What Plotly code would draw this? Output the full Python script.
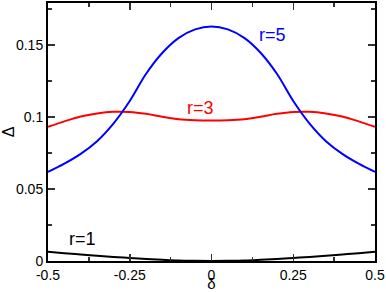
import plotly.graph_objects as go

delta = [-0.5, -0.45, -0.4, -0.35, -0.3, -0.25, -0.2, -0.15, -0.1, -0.05, 0.0,
         0.05, 0.1, 0.15, 0.2, 0.25, 0.3, 0.35, 0.4, 0.45, 0.5]

half_r5 = [0.1627, 0.1607, 0.1548, 0.1445, 0.1299, 0.1110, 0.0953, 0.0831, 0.0743, 0.0675, 0.0618]
half_r3 = [0.0975, 0.0977, 0.0984, 0.1001, 0.1021, 0.1034, 0.1035, 0.1024, 0.1003, 0.0969, 0.0931]
half_r1 = [0.0000, 0.0001, 0.0003, 0.0008, 0.0014, 0.0021, 0.0028, 0.0036, 0.0045, 0.0054, 0.0064]

r5 = half_r5[::-1] + half_r5[1:]
r3 = half_r3[::-1] + half_r3[1:]
r1 = half_r1[::-1] + half_r1[1:]

x_ticks = [-0.5, -0.25, 0, 0.25, 0.5]
x_tick_text = ["-0.5", "-0.25", "0", "0.25", "0.5"]
y_ticks = [0, 0.05, 0.1, 0.15]
y_tick_text = ["0", "0.05", "0.1", "0.15"]

labels = ["r=1", "r=3", "r=5"]
label_x = [-0.396, -0.035, 0.188]
label_y = [0.0153, 0.106, 0.157]
colors = ["#000000", "#ff0000", "#0000ff"]

FONT = "Liberation Sans, Arial"

fig = go.Figure()
for ys, c in zip([r1, r3, r5], colors):
    fig.add_trace(go.Scatter(x=delta, y=ys, mode="lines",
                             line=dict(color=c, width=2, shape="spline", smoothing=1.0),
                             showlegend=False, hoverinfo="skip"))

for t, lx, ly, c in zip(labels, label_x, label_y, colors):
    fig.add_annotation(x=lx, y=ly, text=t, showarrow=False,
                       font=dict(color=c, size=18, family=FONT))

axis_common = dict(showline=True, linecolor="black", linewidth=2, mirror="allticks",
                   ticks="inside", ticklen=7, tickwidth=1.5, tickcolor="#333",
                   showgrid=False, zeroline=False, automargin=False,
                   tickfont=dict(size=14, color="black", family=FONT),
                   minor=dict(ticks="inside", ticklen=4, tickwidth=1.5, tickcolor="#333", showgrid=False))

fig.update_xaxes(range=[-0.5, 0.5], tickvals=x_ticks, ticktext=x_tick_text,
                 title=dict(text="δ", standoff=0, font=dict(size=15, color="black", family=FONT)),
                 **axis_common)
fig.update_xaxes(minor_dtick=0.125, minor_tick0=0)
fig.update_yaxes(range=[0, 0.179], tickvals=y_ticks, ticktext=y_tick_text,
                 title=dict(text="Δ", standoff=2, font=dict(size=16, color="black", family=FONT)),
                 **axis_common)
fig.update_yaxes(minor_dtick=0.025, minor_tick0=0)

fig.update_layout(width=386, height=292, margin=dict(l=48, r=11, t=3, b=31),
                  paper_bgcolor="white", plot_bgcolor="white")

fig.write_html("out.html", config={"displayModeBar": False, "staticPlot": True},
               post_script="document.body.style.margin='0';document.body.style.overflow='hidden';")
